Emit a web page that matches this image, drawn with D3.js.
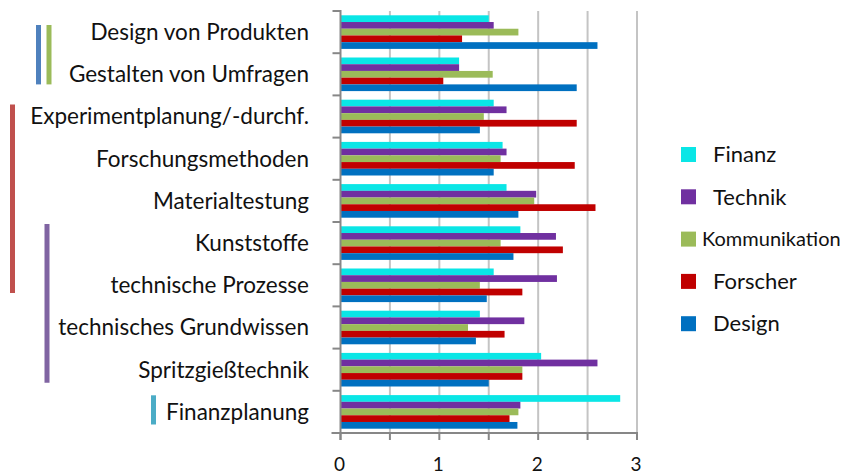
<!DOCTYPE html>
<html>
<head>
<meta charset="utf-8">
<script src="https://cdn.jsdelivr.net/npm/d3@7"></script>
<style>
  body { margin: 0; background: #fff; }
  text { font-family: Lato, "Open Sans", sans-serif; fill: #111; }
</style>
</head>
<body>
<script>
// categories, top to bottom
var categories = ["Design von Produkten", "Gestalten von Umfragen", "Experimentplanung/-durchf.",
  "Forschungsmethoden", "Materialtestung", "Kunststoffe", "technische Prozesse",
  "technisches Grundwissen", "Spritzgießtechnik", "Finanzplanung"];

var series = ["Finanz", "Technik", "Kommunikation", "Forscher", "Design"];

// values per series, same order as categories
var finanz        = [1.50, 1.20, 1.55, 1.64, 1.68, 1.82, 1.55, 1.41, 2.03, 2.83];
var technik       = [1.55, 1.20, 1.68, 1.68, 1.98, 2.18, 2.19, 1.86, 2.60, 1.82];
var kommunikation = [1.80, 1.54, 1.45, 1.62, 1.96, 1.62, 1.41, 1.29, 1.84, 1.80];
var forscher      = [1.23, 1.04, 2.39, 2.37, 2.58, 2.25, 1.84, 1.66, 1.84, 1.71];
var design        = [2.60, 2.39, 1.41, 1.55, 1.80, 1.75, 1.48, 1.37, 1.50, 1.79];

var xTicks = [0, 1, 2, 3];

// bracket lines on the left: which categories they span
var groups = [
  {from: "Design von Produkten", to: "Gestalten von Umfragen", color: "#4f81bd", x: 38.5, top: 14, bottom: 11},
  {from: "Design von Produkten", to: "Gestalten von Umfragen", color: "#9bbb59", x: 49, top: 14, bottom: 11},
  {from: "Experimentplanung/-durchf.", to: "technische Prozesse", color: "#c0504d", x: 12.5, top: 9, bottom: 13.5},
  {from: "Kunststoffe", to: "Spritzgießtechnik", color: "#8064a2", x: 47, top: 2, bottom: 8},
  {from: "Finanzplanung", to: "Finanzplanung", color: "#4bacc6", x: 153.5, top: 4.5, bottom: 8.5}
];

var values = [finanz, technik, kommunikation, forscher, design];
var colors = ["#0ae6e6", "#7030a0", "#9bbb59", "#c00000", "#0070c0"];

var data = categories.map((c, i) => ({
  name: c,
  vals: series.map((s, j) => ({series: s, value: values[j][i], color: colors[j]}))
}));

var width = 850, height = 474;
var margin = ({top: 11, right: 213, bottom: 41, left: 340.5});

var svg = d3.select("body").append("svg")
  .attr("width", width)
  .attr("height", height);

var x = d3.scaleLinear()
  .domain([0, 3])
  .range([margin.left, width - margin.right]);

var y0 = d3.scaleBand()
  .domain(categories)
  .range([margin.top, height - margin.bottom]);

var y1 = d3.scaleBand()
  .domain(series)
  .range([0, y0.bandwidth()])
  .paddingOuter(0.64);

// gridlines every 0.5
var gridVals = d3.range(0.5, 3.01, 0.5);
svg.append("g")
  .selectAll("line").data(gridVals).enter().append("line")
    .attr("x1", d => x(d)).attr("x2", d => x(d))
    .attr("y1", margin.top).attr("y2", height - margin.bottom)
    .attr("stroke", "#c4c4c4")
    .attr("stroke-width", 2);

// bars
svg.append("g")
  .selectAll("g").data(data).enter().append("g")
    .attr("transform", d => `translate(0,${y0(d.name)})`)
  .selectAll("rect").data(d => d.vals).enter().append("rect")
    .attr("x", x(0))
    .attr("y", d => y1(d.series))
    .attr("width", d => x(d.value) - x(0))
    .attr("height", y1.bandwidth())
    .attr("fill", d => d.color);

// y axis line and ticks at band boundaries
var bounds = categories.map(c => y0(c)).concat([y0.range()[1]]);
var axisG = svg.append("g").attr("stroke", "#878787").attr("stroke-width", 2);
axisG.append("line")
  .attr("x1", x(0)).attr("x2", x(0))
  .attr("y1", margin.top - 1).attr("y2", height - margin.bottom + 7);
axisG.selectAll(".ytick").data(bounds).enter().append("line")
  .attr("x1", x(0) - 8).attr("x2", x(0))
  .attr("y1", d => d).attr("y2", d => d);

// x axis line and ticks
axisG.append("line")
  .attr("x1", x(0) - 9).attr("x2", x(3) + 1)
  .attr("y1", height - margin.bottom).attr("y2", height - margin.bottom);
axisG.selectAll(".xtick").data([0].concat(gridVals)).enter().append("line")
  .attr("x1", d => x(d)).attr("x2", d => x(d))
  .attr("y1", height - margin.bottom).attr("y2", height - margin.bottom + 7);

// x tick labels
svg.append("g")
  .selectAll("text").data(xTicks).enter().append("text")
    .attr("x", d => x(d) - 1)
    .attr("y", height - margin.bottom + 38)
    .attr("text-anchor", "middle")
    .style("font-size", "19px")
    .text(d => d);

// category labels
svg.append("g")
  .selectAll("text").data(categories).enter().append("text")
    .attr("x", 309)
    .attr("y", d => y0(d) + y0.bandwidth() / 2)
    .attr("dy", "0.35em")
    .attr("text-anchor", "end")
    .style("font-size", "22.5px")
    .text(d => d);

// group brackets
svg.append("g")
  .selectAll("line").data(groups).enter().append("line")
    .attr("x1", d => d.x).attr("x2", d => d.x)
    .attr("y1", d => y0(d.from) + d.top)
    .attr("y2", d => y0(d.to) + y0.bandwidth() - d.bottom)
    .attr("stroke", d => d.color)
    .attr("stroke-width", 5);

// legend
var legend = svg.append("g")
  .selectAll("g").data(series).enter().append("g")
    .attr("transform", (d, i) => `translate(681,${154.5 + i * 42.3})`);
legend.append("rect")
  .attr("x", 0).attr("y", -7.5)
  .attr("width", 15).attr("height", 15)
  .attr("fill", (d, i) => colors[i]);
legend.append("text")
  .attr("x", d => d == "Kommunikation" ? 21 : 32)
  .attr("dy", "0.35em")
  .style("font-size", d => d == "Kommunikation" ? "20px" : "22px")
  .text(d => d);
</script>
</body>
</html>
